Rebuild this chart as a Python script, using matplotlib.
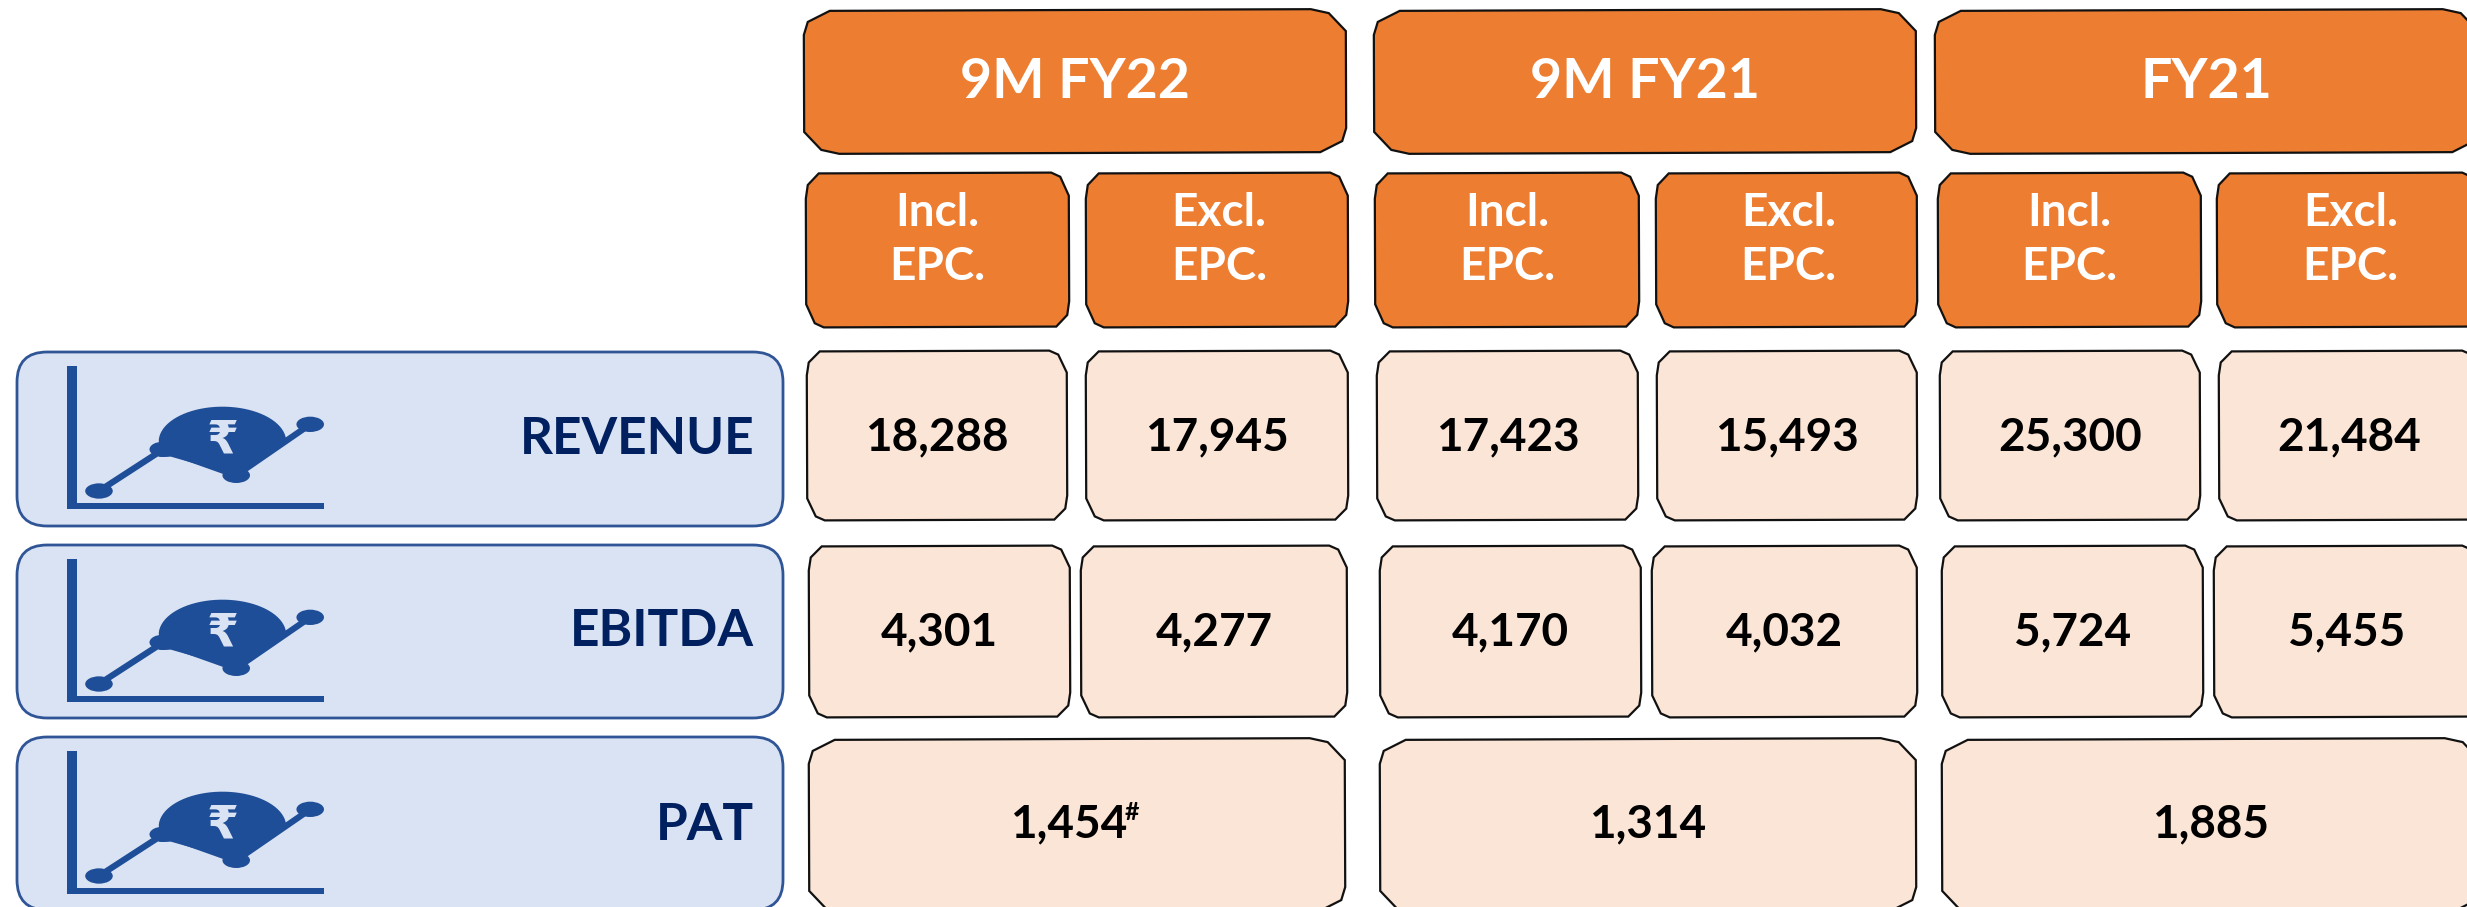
import numpy as np
import matplotlib
matplotlib.use("Agg")
import matplotlib.pyplot as plt
from matplotlib.patches import Polygon, Ellipse, FancyBboxPatch, Rectangle

periods = ["9M FY22", "9M FY21", "FY21"]
sub_headers = ["Incl.\nEPC.", "Excl.\nEPC."]
metrics = ["REVENUE", "EBITDA", "PAT"]
revenue = ["18,288", "17,945", "17,423", "15,493", "25,300", "21,484"]
ebitda = ["4,301", "4,277", "4,170", "4,032", "5,724", "5,455"]
pat = ["1,454", "1,314", "1,885"]

ORANGE, PEACH, LBLUE, EDGE, NAVY, ICON = "#ED7D31", "#FBE5D6", "#DAE3F3", "#2F5597", "#002060", "#1F4E99"
FONT = "Lato"

fig = plt.figure(figsize=(24.67, 9.07), dpi=100)
ax = fig.add_axes([0, 0, 1, 1])
ax.set_xlim(0, 2467)
ax.set_ylim(907, 0)
ax.axis("off")


def chamfer(x0, x1, y0, y1, fc, sx=1.0, sy=1.0, tilt=0.0035):
    a = [(0, 24), (4, 11), (26, 0)]
    b = [(35, 0), (17, 4), (0, 22)]
    pts = []
    pts += [(x0 + p * sx, y0 + q * sy) for p, q in a]
    pts += [(x1 - p * sx, y0 + q * sy) for p, q in b]
    pts += [(x1 - p * sx, y1 - q * sy) for p, q in a]
    pts += [(x0 + p * sx, y1 - q * sy) for p, q in b]
    cx, cy = (x0 + x1) / 2, (y0 + y1) / 2
    pts = [(x + (y - cy) * tilt, y - (x - cx) * tilt) for x, y in pts]
    ax.add_patch(Polygon(pts, closed=True, fc=fc, ec="#111111", lw=1.6, zorder=2))


def label(x, y, s, size, color="black", ha="center", sx=None):
    return ax.text(x, y, s, fontsize=size, color=color, ha=ha, va="center",
                   family=FONT, fontweight="bold", zorder=4, linespacing=1.35)


def icon(x, y):
    X = lambda p: x + p / 1.96 - 17
    Y = lambda q: y + q / 3 - 12
    ax.add_patch(Rectangle((X(131), Y(78)), 19 / 1.96, 429 / 3, fc=ICON, ec="none", zorder=3))
    ax.add_patch(Rectangle((X(131), Y(490)), 504 / 1.96, 17 / 3, fc=ICON, ec="none", zorder=3))
    xs = [194, 320, 463, 608]
    ys = [453, 328, 406, 253]
    ax.plot([X(v) for v in xs], [Y(v) for v in ys], color=ICON, lw=4.5, zorder=3)
    for v, w in zip(xs, ys):
        ax.add_patch(Ellipse((X(v), Y(w)), 54 / 1.96, 46 / 3, fc=ICON, ec="none", zorder=3))
    t = np.linspace(np.pi * 0.98, 0.02 * np.pi, 40)
    dome = [(X(436 + 125 * np.cos(a)), Y(305 - 105 * np.sin(a))) for a in t]
    dome += [(X(590), Y(265)), (X(463), Y(406)), (X(335), Y(350)), (X(312), Y(350))]
    ax.add_patch(Polygon(dome, closed=True, fc=ICON, ec="none", zorder=3))
    ax.text(X(437), Y(303), "\u20b9", fontsize=33, color=LBLUE, ha="center", va="center",
            family="DejaVu Sans", fontweight="bold", zorder=4)


# period headers
for (x0, x1), s in zip([(804, 1346), (1374, 1916), (1935, 2478)], periods):
    chamfer(x0, x1, 10, 153, ORANGE)
    label((x0 + x1) / 2, 82, s, 40, "white")

# sub headers
sub_x = [(806, 1069), (1086, 1348), (1375, 1639), (1656, 1917), (1938, 2201), (2217, 2480)]
for i, (x0, x1) in enumerate(sub_x):
    chamfer(x0, x1, 173, 327, ORANGE, 0.5, 1.05)
    label((x0 + x1) / 2 - 2 * (i % 2 == 0) + 2, 240, sub_headers[i % 2], 33, "white")

# value rows
row1_x = [(807, 1067), (1086, 1348), (1377, 1638), (1657, 1917), (1940, 2200), (2219, 2480)]
row2_x = [(809, 1070), (1081, 1347), (1380, 1641), (1652, 1917), (1942, 2203), (2214, 2480)]
for (x0, x1), v in zip(row1_x, revenue):
    chamfer(x0, x1, 351, 520, PEACH, 0.5, 1.0)
    label((x0 + x1) / 2, 437, v, 33)
for (x0, x1), v in zip(row2_x, ebitda):
    chamfer(x0, x1, 546, 717, PEACH, 0.5, 1.0)
    label((x0 + x1) / 2, 632, v, 33)
row3_x = [(809, 1345), (1380, 1916), (1942, 2480)]
for k, ((x0, x1), v) in enumerate(zip(row3_x, pat)):
    chamfer(x0, x1, 739, 912, PEACH)
    cx = (x0 + x1) / 2
    label(cx if k else cx - 8, 824, v, 33)
ax.text(1132, 813, "#", fontsize=18, color="black", ha="center", va="center",
        family=FONT, fontweight="bold", zorder=4)

# row labels
for y0, y1, name, yt in zip([352, 545, 737], [526, 718, 910], metrics, [440, 632, 826]):
    ax.add_patch(FancyBboxPatch((17 + 38, y0), 766 - 76, y1 - y0, mutation_scale=1,
                                boxstyle="round,pad=0,rounding_size=38", fc=LBLUE, ec="none", lw=0, zorder=1))
    ax.add_patch(FancyBboxPatch((17, y0), 766, y1 - y0, mutation_scale=1,
                                boxstyle="round,pad=0,rounding_size=30", fc=LBLUE, ec=EDGE, lw=2, zorder=1))
    icon(17, y0)
    label(754, yt, name, 37, NAVY, ha="right")

fig.savefig("out.png", dpi=100)
